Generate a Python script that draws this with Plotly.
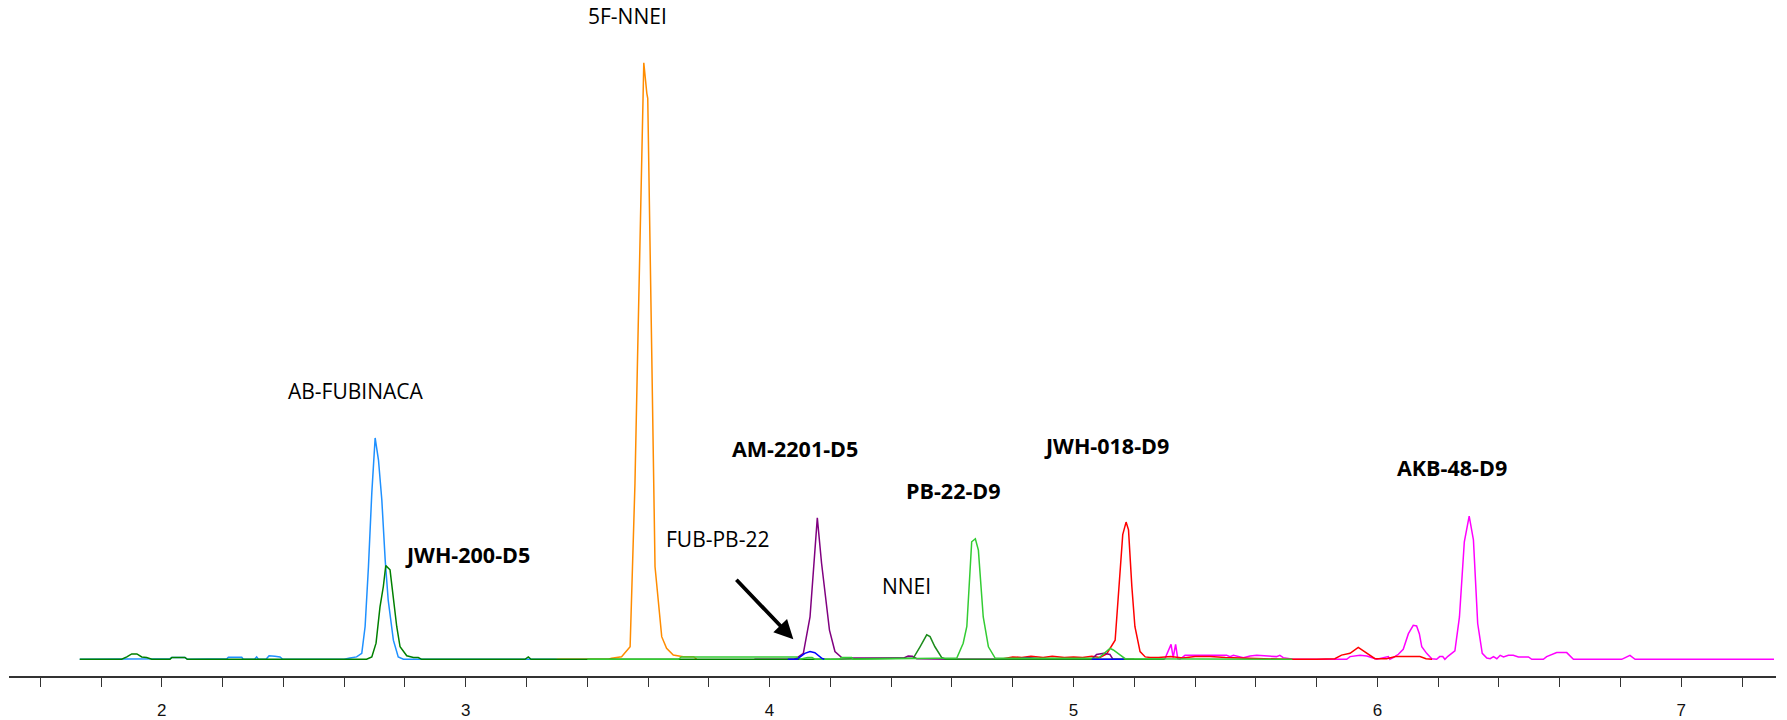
import plotly.graph_objects as go

# ---------------- data (retention time in min, intensity in % of 5F-NNEI apex) -------------
ab_fubinaca_t = [1.730, 2.020, 2.027, 2.033, 2.076, 2.084, 2.210, 2.214, 2.219, 2.263, 2.268,
                 2.305, 2.312, 2.318, 2.343, 2.353, 2.372, 2.389, 2.398, 2.600, 2.619, 2.641,
                 2.658, 2.669, 2.680, 2.691, 2.702, 2.713, 2.724, 2.735, 2.745, 2.762, 2.778,
                 2.795, 3.300]
ab_fubinaca_i = [0, 0, 0.1, 0.3, 0.3, 0, 0, 0.1, 0.35, 0.35, 0,
                 0, 0.4, 0, 0, 0.6, 0.5, 0.4, 0, 0, 0.2, 0.4,
                 1.0, 5.5, 15.5, 27.9, 37.1, 33.4, 26.7, 16.7, 9.9, 3.2, 0.4,
                 0, 0]

jwh200_t = [1.730, 1.868, 1.885, 1.901, 1.918, 1.934, 1.950, 1.967, 2.027, 2.033, 2.076, 2.084,
            2.674, 2.691, 2.705, 2.718, 2.729, 2.737, 2.751, 2.762, 2.773, 2.784, 2.806, 2.828,
            2.844, 2.855, 3.195, 3.206, 3.215, 4.200]
jwh200_i = [0, 0, 0.4, 0.9, 0.9, 0.4, 0.3, 0, 0, 0.3, 0.3, 0,
            0, 0.4, 2.7, 8.8, 12.2, 15.7, 15.0, 10.5, 5.5, 2.1, 0.6, 0.3,
            0.3, 0, 0, 0.4, 0, 0]

f5_nnei_t = [3.300, 3.470, 3.480, 3.513, 3.541, 3.548, 3.557, 3.566, 3.579, 3.586, 3.596, 3.599,
             3.612, 3.623, 3.645, 3.661, 3.683, 3.716, 3.750, 3.760]
f5_nnei_i = [0, 0, 0.17, 0.44, 2.11, 12.74, 29.5, 51.84, 87.05, 100, 94.87, 94.03,
             51.84, 15.52, 3.79, 1.84, 0.72, 0.44, 0.44, 0]

am2201_t = [3.950, 4.080, 4.089, 4.111, 4.133, 4.144, 4.157, 4.171, 4.197, 4.215, 4.237, 4.275,
            4.440, 4.456, 4.470, 4.484, 4.600, 4.800, 4.850, 4.900, 5.060, 5.076, 5.100, 5.120,
            5.130, 5.200]
am2201_i = [0, 0, 0.2, 1.0, 7.1, 15.0, 23.7, 16.1, 4.9, 1.3, 0.3, 0.2,
            0.2, 0.55, 0.5, 0.1, 0, 0, 0.3, 0, 0, 0.8, 1.0, 0.8,
            0, 0]

fub_pb22_t = [4.060, 4.090, 4.095, 4.116, 4.133, 4.149, 4.171, 4.180, None, 5.060, 5.165]
fub_pb22_i = [0, 0, 0.2, 1.0, 1.3, 1.1, 0.2, 0, None, 0, 0]

nnei_t = [4.200, 4.473, 4.495, 4.517, 4.528, 4.544, 4.566, 4.580, 5.300]
nnei_i = [0, 0.2, 2.1, 4.1, 3.8, 2.1, 0.3, 0, 0]

pb22_t = [3.400, 3.700, 3.710, 4.090, 4.100, 4.125, 4.140, 4.150, 4.230, 4.236, 4.270, 4.275,
          4.616, 4.637, 4.649, 4.665, 4.677, 4.687, 4.703, 4.720, 4.742, 5.082, 5.120, 5.131,
          5.153, 5.170, 5.720]
pb22_i = [0, 0, 0.4, 0.4, 0, 0.3, 0.3, 0, 0, 0.3, 0.3, 0,
          0.2, 2.7, 5.5, 19.7, 20.2, 18.3, 7.1, 2.1, 0.2, 0.17, 1.84, 1.56,
          0.73, 0.1, 0]

jwh018_t = [4.760, 4.800, 4.830, 4.860, 4.900, 4.930, 4.970, 5.000, 5.030, 5.060, 5.087, 5.109,
            5.137, 5.148, 5.162, 5.173, 5.181, 5.192, 5.202, 5.219, 5.236, 5.252, 5.280, 5.320,
            5.360, 5.400, 5.450, 5.500, 5.550, 5.600, 5.700, 5.800, 5.860, 5.882, 5.910, 5.937,
            5.965, 5.992, 6.030, 6.060, 6.100, 6.140, 6.160, 6.180]
jwh018_i = [0, 0.4, 0.3, 0.5, 0.3, 0.5, 0.3, 0.4, 0.3, 0.5, 0.3, 0.9,
            3.2, 11.6, 20.9, 23.0, 21.7, 12.2, 5.5, 1.3, 0.4, 0.3, 0.3, 0.45,
            0.2, 0.45, 0.45, 0.3, 0.2, 0.1, 0, 0, 0.1, 0.7, 1.0, 2.0,
            1.0, 0.1, 0.1, 0.45, 0.45, 0.45, 0.1, 0]

akb48_t = [5.300, 5.314, 5.321, 5.328, 5.336, 5.343, 5.350, 5.367, 5.504, 5.515, 5.526, 5.559,
           5.581, 5.603, 5.668, 5.679, 5.690, 5.723, 5.899, 5.910, 5.943, 5.965, 5.998, 6.036,
           6.041, 6.052, 6.069, 6.085, 6.102, 6.118, 6.129, 6.138, 6.146, 6.162, 6.179, 6.195,
           6.205, 6.215, 6.222, 6.232, 6.245, 6.255, 6.270, 6.286, 6.302, 6.316, 6.330, 6.345,
           6.360, 6.371, 6.382, 6.393, 6.404, 6.415, 6.431, 6.447, 6.464, 6.497, 6.508, 6.546,
           6.557, 6.590, 6.623, 6.645, 6.804, 6.831, 6.848, 7.305]
akb48_i = [0, 1.8, 2.5, 0.3, 2.5, 0.1, 0, 0.67, 0.67, 0.45, 0.67, 0.28,
           0.56, 0.67, 0.45, 0.67, 0.28, 0, 0, 0.45, 0.67, 0.56, 0, 0.45,
           0, 0.28, 0.84, 1.68, 4.3, 5.7, 5.6, 4.3, 2.1, 1.0, 0.1, 0,
           0.45, 0.45, 0, 0.5, 1.0, 1.4, 7.1, 19.7, 24.0, 20.0, 6.0, 1.0,
           0.2, 0.1, 0.45, 0.1, 0.67, 0.39, 0.67, 0.67, 0.39, 0.39, 0, 0,
           0.45, 1.12, 1.12, 0, 0, 0.67, 0, 0]

tick_vals = [1.6, 1.8, 2.0, 2.2, 2.4, 2.6, 2.8, 3.0, 3.2, 3.4, 3.6, 3.8, 4.0, 4.2, 4.4, 4.6,
             4.8, 5.0, 5.2, 5.4, 5.6, 5.8, 6.0, 6.2, 6.4, 6.6, 6.8, 7.0, 7.2]
tick_text = ["", "", "2", "", "", "", "", "3", "", "", "", "", "4", "", "", "",
             "", "5", "", "", "", "", "6", "", "", "", "", "7", ""]

# label text, anchor position (t, intensity), bold flag
label_text = ["5F-NNEI", "AB-FUBINACA", "JWH-200-D5", "AM-2201-D5", "FUB-PB-22",
              "NNEI", "PB-22-D9", "JWH-018-D9", "AKB-48-D9"]
label_t = [3.534, 2.639, 3.006, 4.084, 3.829, 4.450, 4.604, 5.109, 6.245]
label_i = [107.8, 45.0, 17.65, 35.3, 20.2, 12.3, 28.3, 35.9, 32.1]
label_bold = [False, False, True, True, False, False, True, True, True]

# ---------------- figure ----------------
series = [
    (akb48_t, akb48_i, "#FF00FF", "AKB-48-D9"),
    (jwh018_t, jwh018_i, "#FF0000", "JWH-018-D9"),
    (am2201_t, am2201_i, "#800080", "AM-2201-D5"),
    (f5_nnei_t, f5_nnei_i, "#FF8C00", "5F-NNEI"),
    (ab_fubinaca_t, ab_fubinaca_i, "#1E90FF", "AB-FUBINACA"),
    (jwh200_t, jwh200_i, "#008000", "JWH-200-D5"),
    (nnei_t, nnei_i, "#1C8C1C", "NNEI"),
    (pb22_t, pb22_i, "#33CC33", "PB-22-D9"),
    (fub_pb22_t, fub_pb22_i, "#0000FF", "FUB-PB-22"),
]

fig = go.Figure()
for t, i, c, n in series:
    fig.add_trace(go.Scatter(x=t, y=i, mode="lines", name=n,
                             line=dict(color=c, width=1.5), connectgaps=False,
                             hoverinfo="skip"))

FONT = "Open Sans, Noto Sans, sans-serif"
for txt, t, i, b in zip(label_text, label_t, label_i, label_bold):
    fig.add_annotation(x=t, y=i, xref="x", yref="y",
                       text=f"<b>{txt}</b>" if b else txt,
                       showarrow=False, xanchor="center", yanchor="middle",
                       font=dict(family=FONT, size=21.5 if b else 21, color="black"))

# arrow pointing at the small FUB-PB-22 peak
fig.add_annotation(x=4.078, y=3.35, ax=3.886, ay=13.58, xref="x", yref="y",
                   axref="x", ayref="y", text="", showarrow=True,
                   arrowhead=2, arrowsize=1.0, arrowwidth=3.8, arrowcolor="black",
                   standoff=0, startstandoff=0)

fig.update_layout(
    width=1787, height=720,
    margin=dict(l=9, r=11, t=0, b=44, pad=0),
    paper_bgcolor="white", plot_bgcolor="white",
    showlegend=False,
    xaxis=dict(range=[1.4972, 7.3116], showgrid=False, zeroline=False,
               showline=True, linecolor="#333333", linewidth=2,
               ticks="outside", ticklen=9, tickwidth=1.3, tickcolor="#333333",
               tickvals=tick_vals, ticktext=tick_text, ticklabelstandoff=9,
               tickfont=dict(family="Liberation Sans, Arial, sans-serif", size=17,
                             color="#111111")),
    yaxis=dict(range=[-2.799, 110.51], visible=False, showgrid=False, zeroline=False),
)

fig.write_html("out.html", config={"displayModeBar": False},
               post_script="document.body.style.margin='0';"
                           "document.body.style.padding='0';"
                           "document.body.style.overflow='hidden';")
